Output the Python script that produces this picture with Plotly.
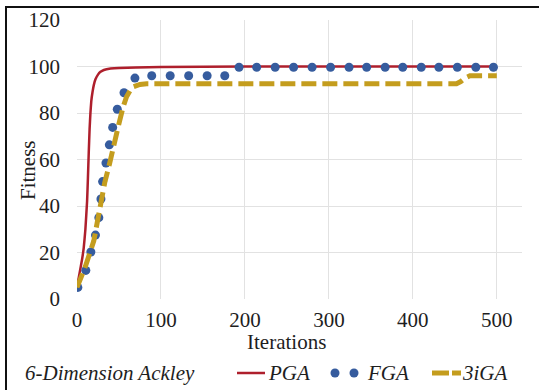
import plotly.graph_objects as go

# ---- data ----
pga_x = [0, 3, 6, 8, 10, 12, 13, 14, 15, 16, 17, 18.5, 20, 22, 25, 28, 32, 40, 50, 70, 100, 200, 300, 400, 500]
pga_y = [5, 11, 17, 22, 30, 42, 52, 63, 73, 80, 85, 89, 92, 94.5, 96.5, 97.7, 98.5, 99.1, 99.4, 99.6, 99.8,
         100, 100, 100, 100]

fga_x = [1, 10.5, 16.5, 22, 26, 28.5, 30.5, 34.5, 38.5, 42.5, 48, 56, 69, 89, 111, 133, 155, 176,
         193, 214, 236, 258, 280, 302, 324, 345, 367, 388, 410, 431, 453, 475, 496]
fga_y = [5, 12.3, 20.2, 27.5, 35, 43, 50.5, 58.5, 66.3, 73.8, 81.6, 88.7, 95, 96, 96, 96, 96, 96,
         99.7, 99.7, 99.7, 99.7, 99.7, 99.7, 99.7, 99.7, 99.7, 99.7, 99.7, 99.7, 99.7, 99.7, 99.7]

iga_x = [0, 10, 20, 27, 33, 39, 43, 49, 55, 59, 63, 67, 75, 83, 100, 200, 300, 400, 452, 457, 462, 468, 500]
iga_y = [5, 14, 25, 40, 50, 58.5, 64, 74, 82.7, 87, 89.5, 91.3, 92.3, 92.6, 92.6, 92.6, 92.6, 92.6,
         92.6, 93.5, 95, 96, 96]

series_names = ["PGA", "FGA", "3iGA"]
x_ticks = [0, 100, 200, 300, 400, 500]
y_ticks = [0, 20, 40, 60, 80, 100, 120]

FONT = "Liberation Serif, Times New Roman, serif"
TXT = "#1e1e1e"
RED, BLUE, GOLD = "#AE1F2C", "#365C9E", "#C49D1E"
FS = 21
W, H = 539, 390
L, R, T, B = 77, 17, 20, 91
PW, PH = W - L - R, H - T - B


def px_x(p):
    return (p - L) / PW


def px_y(p):
    return (H - B - p) / PH


fig = go.Figure()
fig.add_trace(go.Scatter(x=pga_x, y=pga_y, mode="lines", name=series_names[0],
                         line=dict(color=RED, width=2.5, shape="spline", smoothing=0.3)))
fig.add_trace(go.Scatter(x=fga_x, y=fga_y, mode="markers", name=series_names[1],
                         marker=dict(color=BLUE, size=9, line=dict(width=0))))
fig.add_trace(go.Scatter(x=iga_x, y=iga_y, mode="lines", name=series_names[2],
                         line=dict(color=GOLD, width=5, dash="15px,6px")))

LEG_Y = 373
shapes = [
    # outer frame
    dict(type="rect", xref="paper", yref="paper", x0=px_x(6), x1=px_x(545), y0=px_y(400), y1=px_y(7),
         line=dict(color="#111111", width=2), fillcolor="rgba(0,0,0,0)", layer="above"),
    # legend keys
    dict(type="line", xref="paper", yref="paper", x0=px_x(237), x1=px_x(265), y0=px_y(LEG_Y), y1=px_y(LEG_Y),
         line=dict(color=RED, width=2.5)),
    dict(type="line", xref="paper", yref="paper", x0=px_x(432), x1=px_x(449), y0=px_y(LEG_Y), y1=px_y(LEG_Y),
         line=dict(color=GOLD, width=5)),
    dict(type="line", xref="paper", yref="paper", x0=px_x(452), x1=px_x(461), y0=px_y(LEG_Y), y1=px_y(LEG_Y),
         line=dict(color=GOLD, width=5)),
]
for cx in (335, 354):
    shapes.append(dict(type="circle", xref="paper", yref="paper",
                       x0=px_x(cx - 4.5), x1=px_x(cx + 4.5), y0=px_y(LEG_Y + 4.5), y1=px_y(LEG_Y - 4.5),
                       line=dict(width=0), fillcolor=BLUE))

ann = [
    dict(text="Iterations", x=px_x(286), y=px_y(342), xanchor="center", yanchor="middle"),
    dict(text="Fitness", x=px_x(28), y=px_y(170), xanchor="center", yanchor="middle", textangle=-90),
    dict(text="6-Dimension Ackley", x=px_x(23), y=px_y(LEG_Y), xanchor="left", yanchor="middle", italic=True),
    dict(text=series_names[0], x=px_x(266), y=px_y(LEG_Y), xanchor="left", yanchor="middle", italic=True),
    dict(text=series_names[1], x=px_x(365), y=px_y(LEG_Y), xanchor="left", yanchor="middle", italic=True),
    dict(text=series_names[2], x=px_x(460), y=px_y(LEG_Y), xanchor="left", yanchor="middle", italic=True),
]
annotations = []
for a in ann:
    it = a.pop("italic", False)
    a.update(xref="paper", yref="paper", showarrow=False,
             font=dict(family=FONT, size=FS, color=TXT, style="italic" if it else "normal"))
    annotations.append(a)

fig.update_layout(
    width=W, height=H,
    margin=dict(l=L, r=R, t=T, b=B, autoexpand=False),
    paper_bgcolor="white", plot_bgcolor="white",
    font=dict(family=FONT, size=FS, color=TXT),
    showlegend=False,
    xaxis=dict(range=[0, 530], tickvals=x_ticks, showgrid=True, gridcolor="#E2E2E2", gridwidth=1,
               zeroline=False, showline=False, ticks="", ticklabelstandoff=6, automargin=False,
               tickfont=dict(family=FONT, size=FS, color=TXT)),
    yaxis=dict(range=[0, 120], tickvals=y_ticks, showgrid=True, gridcolor="#E2E2E2", gridwidth=1,
               zeroline=False, showline=False, ticks="", ticklabelstandoff=16, automargin=False,
               tickfont=dict(family=FONT, size=FS, color=TXT)),
    annotations=annotations,
    shapes=shapes,
)

fig.write_html("out.html", config={"displayModeBar": False},
               post_script="document.body.style.margin='0';document.body.style.padding='0';")
